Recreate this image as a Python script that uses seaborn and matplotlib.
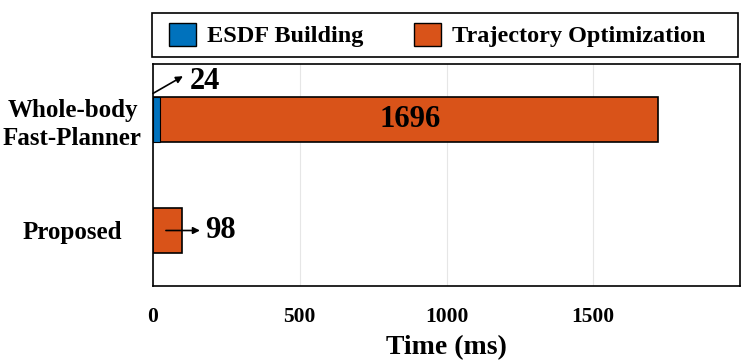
import matplotlib
matplotlib.use("Agg")
import matplotlib.pyplot as plt
import pandas as pd
import seaborn as sns
from matplotlib.patches import Patch, Rectangle

methods = ["Whole-body\nFast-Planner", "Proposed"]
esdf_ms = [24, 0]
traj_ms = [1696, 98]
xticks = [0, 500, 1000, 1500]

BLUE = "#0072BD"
ORANGE = "#D95319"

sns.set_theme(style="white")
plt.rcParams["font.family"] = ["Liberation Serif", "DejaVu Serif"]
plt.rcParams["font.weight"] = "bold"
for key in ["text.color", "axes.labelcolor", "xtick.color", "ytick.color"]:
    plt.rcParams[key] = "black"

df = pd.DataFrame({
    "method": methods,
    "esdf": esdf_ms,
    "traj": traj_ms,
})
df["total"] = df["esdf"] + df["traj"]

W, H = 748, 364
fig = plt.figure(figsize=(W / 100, H / 100), dpi=100)
ax = fig.add_axes([153 / W, 1 - 286 / H, 587 / W, 222 / H])

# stacked: draw total in orange, then ESDF part on top in blue
sns.barplot(data=df, x="total", y="method", color=ORANGE, width=0.4,
            edgecolor="black", linewidth=1.2, saturation=1, ax=ax)
sns.barplot(data=df[df["esdf"] > 0], x="esdf", y="method", color=BLUE, width=0.4,
            edgecolor="black", linewidth=0.8, saturation=1, ax=ax)

ax.set_xlim(0, 2000)
ax.set_ylim(1.5, -0.5)
ax.set_xticks(xticks)
ax.set_xticklabels([str(t) for t in xticks], fontsize=15.5, fontweight="bold")
ax.tick_params(axis="x", length=0, pad=15)
ax.tick_params(axis="y", length=0, pad=58, labelsize=18)
for lab in ax.get_yticklabels():
    lab.set_fontweight("bold")
    lab.set_horizontalalignment("center")
    lab.set_multialignment("center")
    lab.set_linespacing(1.3)
ax.grid(axis="x", color="#e6e6e6", linewidth=0.8)
ax.set_axisbelow(True)
ax.set_ylabel("")
ax.set_xlabel("Time (ms)", fontsize=20, fontweight="bold", labelpad=6)
for sp in ax.spines.values():
    sp.set_color("black")
    sp.set_linewidth(1.2)

# value labels
ax.text(875, 0, str(traj_ms[0]), ha="center", va="center",
        fontsize=22, fontweight="bold")
ax.annotate("", xy=(102, -0.39), xytext=(0, -0.235),
            arrowprops=dict(arrowstyle="-|>", color="black", lw=1.2,
                            mutation_scale=10, shrinkA=0, shrinkB=0))
ax.text(126, -0.34, str(esdf_ms[0]), ha="left", va="center",
        fontsize=22, fontweight="bold")
ax.annotate("", xy=(160, 1), xytext=(44, 1),
            arrowprops=dict(arrowstyle="-|>", color="black", lw=1.2,
                            mutation_scale=10, shrinkA=0, shrinkB=0))
ax.text(177, 1, str(traj_ms[1]), ha="left", va="center",
        fontsize=22, fontweight="bold")

# legend in a box above the axes
fig.patches.append(Rectangle((152 / W, 1 - 57 / H), 586 / W, 44 / H,
                             transform=fig.transFigure, facecolor="white",
                             edgecolor="black", linewidth=1.2))
handles = [Patch(facecolor=BLUE, edgecolor="black", label="ESDF Building"),
           Patch(facecolor=ORANGE, edgecolor="black", label="Trajectory Optimization")]
fig.legend(handles=handles, loc="center left", ncol=2,
           bbox_to_anchor=(169 / W, 1 - 35 / H),
           borderaxespad=0, borderpad=0, frameon=False,
           prop={"size": 17.5, "weight": "bold"},
           handlelength=1.1, handleheight=1.1, handletextpad=0.45,
           columnspacing=2.1)

fig.savefig("out.png", dpi=100)
plt.close(fig)
